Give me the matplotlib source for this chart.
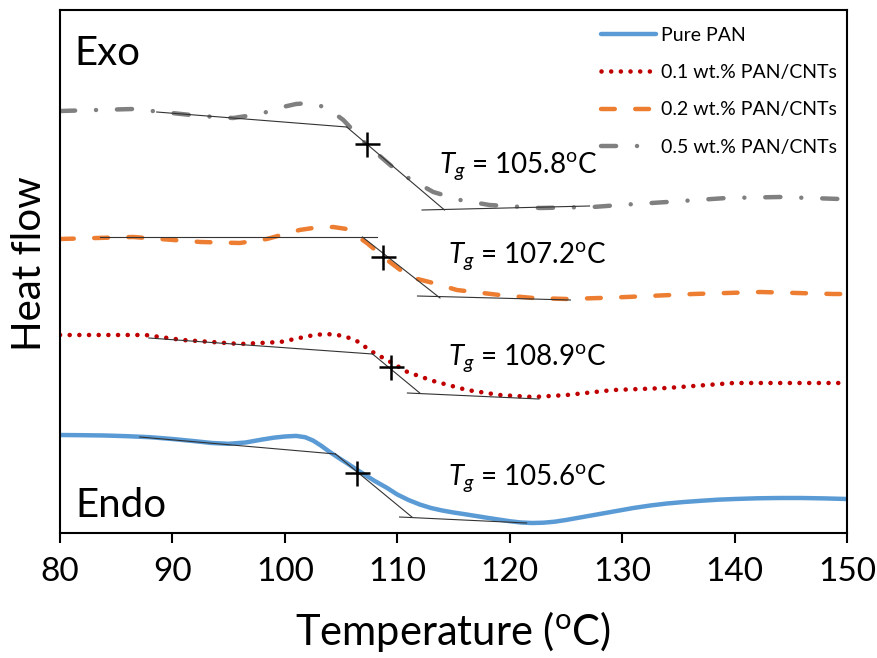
import matplotlib
matplotlib.use("Agg")
import matplotlib.pyplot as plt

plt.rcParams['font.family'] = ['Lato', 'DejaVu Sans']
plt.rcParams['mathtext.fontset'] = 'custom'
plt.rcParams['mathtext.rm'] = 'Lato'
plt.rcParams['mathtext.it'] = 'Lato:italic'

# DSC curves (heat flow in arbitrary units)
t_pure = [80, 82, 84, 86, 88, 90, 92, 93.5, 95, 96.5, 98, 99, 100, 101, 101.8,
          102.5, 103.2, 104, 104.8, 105.5, 106.1, 107, 108, 109.1,
          110, 111, 112, 113, 114, 115, 116, 117, 118, 119, 120, 121, 122,
          123, 124, 125, 126.5, 128, 129.5, 131, 132.5, 134, 135.5, 137,
          138.5, 140, 142, 144, 146, 148, 150]
hf_pure = [0.98, 0.978, 0.975, 0.968, 0.958, 0.94, 0.918, 0.90, 0.892, 0.905,
           0.935, 0.953, 0.965, 0.971, 0.958, 0.925, 0.875, 0.81, 0.75, 0.70,
           0.655, 0.59, 0.52, 0.45, 0.385, 0.33, 0.285, 0.25, 0.225,
           0.205, 0.188, 0.17, 0.152, 0.135, 0.118, 0.105, 0.10, 0.103, 0.113,
           0.13, 0.16, 0.19, 0.22, 0.25, 0.275, 0.295, 0.31, 0.322, 0.333,
           0.34, 0.347, 0.35, 0.35, 0.346, 0.34]

t_01 = [80, 84, 87.6, 90.9, 93.5, 96.0, 97.8, 99.6, 101.3, 102.6, 103.7, 104.7,
        105.5, 106.4, 107.8, 109.4, 110.9, 113.2, 116.2, 119.1, 122.1, 125.1,
        129.2, 134.0, 139.9, 145, 150]
hf_01 = [1.98, 1.98, 1.98, 1.93, 1.91, 1.89, 1.90, 1.91, 1.95, 1.98, 1.99,
         1.98, 1.96, 1.92, 1.81, 1.71, 1.61, 1.52, 1.43, 1.38, 1.36, 1.38,
         1.43, 1.45, 1.50, 1.50, 1.50]

t_02 = [80, 86.5, 92.5, 96.0, 98.4, 101.3, 102.8, 104.3, 105.5, 107.3, 109.1,
        111.1, 113.2, 115.3, 119.1, 122.1, 125.1, 128.0, 130.4, 136.3, 142.3,
        148.8, 150]
hf_02 = [2.94, 2.96, 2.91, 2.90, 2.94, 3.03, 3.055, 3.06, 3.04, 2.90, 2.73,
         2.56, 2.50, 2.43, 2.38, 2.35, 2.34, 2.35, 2.36, 2.39, 2.41, 2.39, 2.39]

t_05 = [80, 86.5, 92.5, 95.4, 97.8, 99.8, 101.0, 102.2, 103.2, 104.0, 105.2,
        107.3, 110.2, 113.2, 115.6, 118.2, 122.7, 127.4, 129.8, 134.0, 139.3,
        144.0, 149.4, 150]
hf_05 = [4.22, 4.24, 4.17, 4.15, 4.19, 4.26, 4.29, 4.30, 4.27, 4.23, 4.13,
         3.88, 3.60, 3.41, 3.33, 3.28, 3.25, 3.26, 3.28, 3.31, 3.35, 3.36,
         3.34, 3.34]

# Tangent construction lines: (x list, y list) per curve
tan_pure = [([87.1, 104.5], [0.96, 0.79]), ([104.5, 111.3], [0.79, 0.16]),
            ([110.2, 121.5], [0.16, 0.10])]
tan_01 = [([87.9, 107.8], [1.95, 1.79]), ([107.8, 112.0], [1.79, 1.40]),
          ([110.9, 122.6], [1.40, 1.34])]
tan_02 = [([83.6, 108.2], [2.96, 2.96]), ([106.9, 113.8], [2.96, 2.35]),
          ([111.8, 125.4], [2.37, 2.33])]
tan_05 = [([88.6, 105.5], [4.21, 4.06]), ([105.5, 114.2], [4.06, 3.23]),
          ([112.2, 127.1], [3.23, 3.27])]

cross_x = [106.4, 109.4, 108.7, 107.3]
cross_y = [0.60, 1.66, 2.76, 3.89]

tg_values = ['105.6', '108.9', '107.2', '105.8']
tg_x = [114.5, 114.5, 114.5, 113.7]
tg_y = [0.48, 1.68, 2.70, 3.61]

fig = plt.figure(figsize=(8.77, 6.58), dpi=100)
ax = fig.add_axes([60 / 877, 125 / 658, 787 / 877, 523 / 658])

ax.plot(t_pure, hf_pure, color='#5B9BD5', lw=3.2, label='Pure PAN',
        solid_capstyle='round', solid_joinstyle='round')
ax.plot(t_01, hf_01, color='#C00000', lw=3.3, linestyle=(0, (0.01, 2.1)),
        dash_capstyle='round', label='0.1 wt.% PAN/CNTs')
ax.plot(t_02, hf_02, color='#ED7D31', lw=3.2, linestyle=(0, (3.1, 4.6)),
        dash_capstyle='round', label='0.2 wt.% PAN/CNTs')
ax.plot(t_05, hf_05, color='#808080', lw=3.2,
        linestyle=(0, (3.4, 4.7, 0.01, 4.7)), dash_capstyle='round',
        label='0.5 wt.% PAN/CNTs')

for tans in [tan_pure, tan_01, tan_02, tan_05]:
    for xs, ys in tans:
        ax.plot(xs, ys, color='#333333', lw=0.8)

ax.plot(cross_x, cross_y, linestyle='none', marker='+', markersize=18,
        markeredgewidth=1.8, color='black')

for v, x, y in zip(tg_values, tg_x, tg_y):
    ax.text(x, y, r'$T_g$ = ' + v + r'$^{\mathrm{o}}$C', fontsize=20,
            va='baseline', ha='left')

ax.text(81.3, 4.68, 'Exo', fontsize=29, va='baseline')
ax.text(81.4, 0.16, 'Endo', fontsize=29, va='baseline')

ax.set_xlim(80, 150)
ax.set_ylim(0, 5.23)
ax.set_xticks(range(80, 151, 10))
ax.set_yticks([])
ax.tick_params(axis='x', direction='out', length=7, width=1.5, labelsize=24,
               pad=10)
for s in ax.spines.values():
    s.set_linewidth(1.5)

ax.set_xlabel(r'Temperature ($^{\mathrm{o}}$C)', fontsize=30)
ax.xaxis.set_label_coords(0.5, -0.145)
ax.set_ylabel('Heat flow', fontsize=29)
ax.yaxis.set_label_coords(-0.015, 0.516)

ax.legend(loc='upper right', bbox_to_anchor=(1.008, 1.0), frameon=False,
          fontsize=14, handlelength=2.8, handletextpad=0.25, labelspacing=1.05,
          borderaxespad=0.45)

fig.savefig('out.png', dpi=100)
